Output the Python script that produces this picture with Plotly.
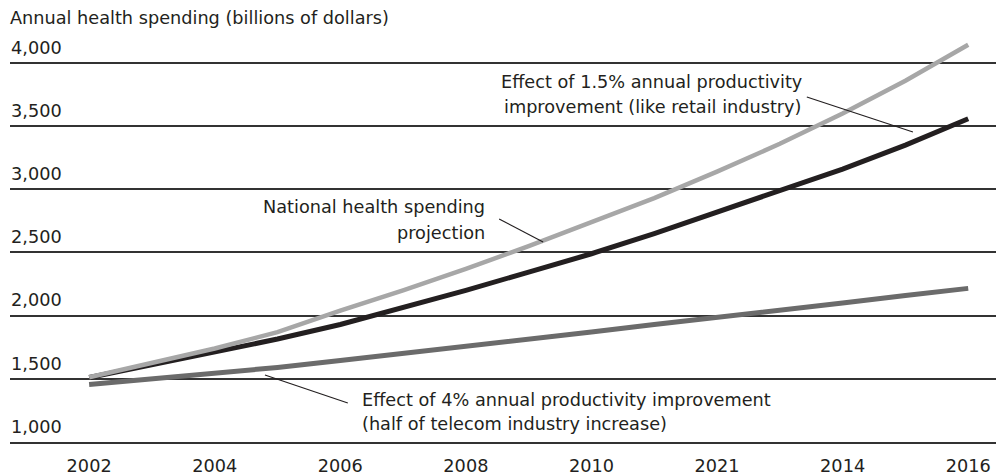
import plotly.graph_objects as go

# ---- data ----
years = list(range(2002, 2017))
projection = [1513, 1625, 1740, 1870, 2040, 2200, 2370, 2550, 2740, 2930, 3140, 3360, 3600, 3860, 4144]
retail_effect = [1510, 1610, 1710, 1815, 1930, 2060, 2200, 2345, 2490, 2650, 2820, 2990, 3160, 3350, 3559]
telecom_effect = [1455, 1500, 1545, 1590, 1645, 1700, 1755, 1815, 1870, 1930, 1985, 2045, 2100, 2160, 2216]

x_tick_vals = [2002, 2004, 2006, 2008, 2010, 2012, 2014, 2016]
x_tick_text = ["2002", "2004", "2006", "2008", "2010", "2021", "2014", "2016"]
y_tick_vals = [1000, 1500, 2000, 2500, 3000, 3500, 4000]
y_tick_text = ["1,000", "1,500", "2,000", "2,500", "3,000", "3,500", "4,000"]

title_text = "Annual health spending (billions of dollars)"
label_projection = ["National health spending", "projection"]
label_retail = ["Effect of 1.5% annual productivity", "improvement (like retail industry)"]
label_telecom = ["Effect of 4% annual productivity improvement", "(half of telecom industry increase)"]

FONT = "DejaVu Sans"
FS = 17.7
TXT = "#231f20"
# page body has an 8px margin, so the figure is 8px smaller than the window
W, H = 996, 468

fig = go.Figure()
fig.add_trace(go.Scatter(x=years, y=telecom_effect, mode="lines",
                         line=dict(color="#6b6b6b", width=5), hoverinfo="skip"))
fig.add_trace(go.Scatter(x=years, y=retail_effect, mode="lines",
                         line=dict(color="#231f20", width=5), hoverinfo="skip"))
fig.add_trace(go.Scatter(x=years, y=projection, mode="lines",
                         line=dict(color="#a7a7a7", width=4.5), hoverinfo="skip"))

# text labels (one annotation per line for reference-like spacing)
def add_lines(lines, x, y_first, xanchor, gap):
    for i, t in enumerate(lines):
        fig.add_annotation(x=x, y=y_first - i * gap, xref="x", yref="y", text=t,
                           showarrow=False, xanchor=xanchor, yanchor="middle",
                           font=dict(family=FONT, size=FS, color=TXT))

add_lines(label_projection, 2008.34, 2860, "right", 205)
add_lines(label_retail, 2013.38, 3850, "right", 200)
add_lines(label_telecom, 2006.32, 1335, "left", 195)

# leader lines
leaders = [((2008.53, 2765), (2009.23, 2583)),
           ((2013.43, 3731), (2015.12, 3454)),
           ((2004.80, 1530), (2006.12, 1309))]
for (x0, y0), (x1, y1) in leaders:
    fig.add_shape(type="line", x0=x0, y0=y0, x1=x1, y1=y1, xref="x", yref="y",
                  line=dict(color="#231f20", width=1.2))

fig.update_layout(
    width=W, height=H,
    margin=dict(l=2, r=0, t=22, b=34),
    paper_bgcolor="white", plot_bgcolor="white",
    showlegend=False,
    font=dict(family=FONT, size=FS, color=TXT),
    title=dict(text=title_text, x=2 / W, xanchor="left", xref="container",
               y=1 - 10 / H, yanchor="middle", yref="container",
               font=dict(family=FONT, size=FS, color=TXT)),
)
fig.update_xaxes(range=[2000.74, 2016.57], tickvals=x_tick_vals, ticktext=x_tick_text,
                 showgrid=False, zeroline=False, showline=True, linecolor="#333333",
                 linewidth=1.5, ticks="", ticklabelstandoff=7,
                 tickfont=dict(family=FONT, size=FS, color=TXT))
fig.update_yaxes(range=[1000, 4261], tickvals=y_tick_vals, ticktext=y_tick_text,
                 showgrid=True, gridcolor="#333333", gridwidth=1.5, zeroline=False,
                 showline=False, ticks="", ticklabelposition="inside top",
                 ticklabelshift=-3, ticklabelstandoff=-2,
                 tickfont=dict(family=FONT, size=FS, color=TXT))

fig.write_html("out.html")
